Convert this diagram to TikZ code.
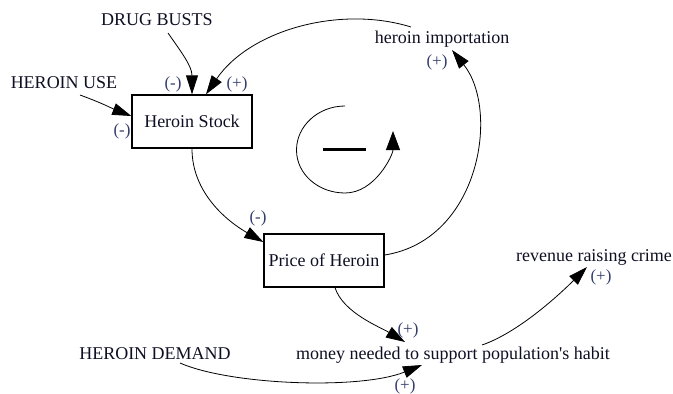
\documentclass[tikz,border=0pt]{standalone}
\usepackage{fontspec}
\setmainfont{Liberation Serif}[Ligatures=TeXOff]
\usetikzlibrary{arrows.meta,calc}
\definecolor{signcol}{rgb}{0.20,0.24,0.42}
\definecolor{txtcol}{rgb}{0.06,0.06,0.14}
\begin{document}
\begin{tikzpicture}[x=1pt,y=-1pt,
  lbl/.style={inner sep=0pt,text=txtcol,font=\fontsize{18}{20}\selectfont},
  sgn/.style={inner sep=0pt,text=signcol,font=\fontsize{17}{19}\selectfont},
  stockbox/.style={draw,line width=1.3pt,minimum width=120pt,minimum height=53pt,inner sep=0pt,text=txtcol,font=\fontsize{18}{20}\selectfont},
  link/.style={line width=0.8pt,-{Triangle[length=19pt,width=12pt]}},
  loopline/.style={line width=0.8pt,-{Triangle[length=19pt,width=14pt]}}]
\useasboundingbox (0,0) rectangle (673,394);

% stocks
\node[stockbox] (stock) at (192,121.5) {Heroin Stock};
\node[stockbox] (price) at (324,260.5) {Price of Heroin};

% variables
\node[lbl] (drug) at (157,20) {DRUG BUSTS};
\node[lbl] (use) at (64,83) {HEROIN USE};
\node[lbl] (import) at (442,39) {heroin importation};
\node[lbl] (crime) at (594,257) {revenue raising crime};
\node[lbl] (money) at (453,355) {money needed to support population's habit};
\node[lbl] (demand) at (155,354) {HEROIN DEMAND};

% polarities
\node[sgn] (s1) at (173,84) {(-)};
\node[sgn] (s2) at (237,84) {(+)};
\node[sgn] (s3) at (122,131) {(-)};
\node[sgn] (s4) at (258,218) {(-)};
\node[sgn] (s5) at (437,62) {(+)};
\node[sgn] (s6) at (601,277) {(+)};
\node[sgn] (s7) at (408,330) {(+)};
\node[sgn] (s8) at (405,386) {(+)};

% links
\draw[link] ($(drug)+(11,13)$) .. controls +(14,20) and +(0,-28) .. (stock.north);
\draw[link] ($(use)+(16,12)$) .. controls +(22,8) and +(-18,-7) .. ($(stock.west)+(0,-5.5)$);
\draw[link] ($(import)+(-31,-12)$) .. controls (340,5) and (250,30) .. ($(stock.north)+(14,0)$);
\draw[link] (stock.south) .. controls +(0,45) and +(-35,-20) .. ($(price.west)+(0,-18.5)$);
\draw[link] ($(price.east)+(0,-5.5)$) .. controls (480,240) and (500,110) .. ($(import)+(10,11)$);
\draw[link] ($(price.south)+(11,0)$) .. controls +(8,25) and +(-25,-15) .. ($(money)+(-48,-13)$);
\draw[link] ($(demand)+(25,9)$) .. controls (230,385) and (360,390) .. ($(money)+(-31,10)$);
\draw[link] ($(money)+(29,-10)$) .. controls +(35,-12) and +(-30,30) .. ($(crime)+(-7,10)$);

% loop symbol
\coordinate (lc) at (345,150);
\draw[loopline] ($(lc)+(0,-44)$) .. controls +(-26.5,0) and +(0,-24.3) .. ($(lc)+(-48.5,0)$)
  .. controls +(0,24.3) and +(-26.5,0) .. ($(lc)+(0,43)$)
  .. controls +(30,0) and +(0,24) .. ($(lc)+(48,-19)$);
\draw[line width=3pt] ($(lc)+(-22,-1)$) -- ($(lc)+(21,-1)$);
\end{tikzpicture}
\end{document}
